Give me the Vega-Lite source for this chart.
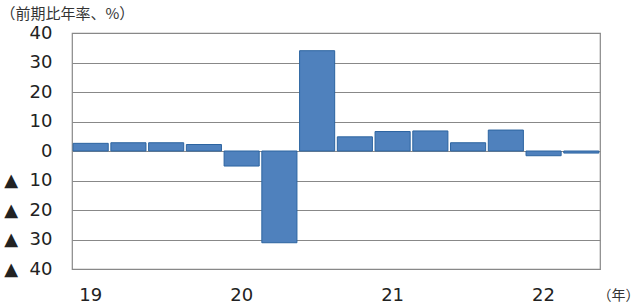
{
  "$schema": "https://vega.github.io/schema/vega-lite/v6.json",
  "width": 528,
  "height": 236,
  "autosize": {"type": "none"},
  "padding": {"left": 72, "top": 33, "right": 40, "bottom": 38},
  "background": "white",
  "config": {
    "view": {"stroke": "#888888", "strokeWidth": 1.2},
    "font": "DejaVu Sans"
  },
  "data": {
    "values": [
      {"q": "2019Q1", "v": 2.6},
      {"q": "2019Q2", "v": 2.8},
      {"q": "2019Q3", "v": 2.8},
      {"q": "2019Q4", "v": 2.2},
      {"q": "2020Q1", "v": -5.1},
      {"q": "2020Q2", "v": -31.1},
      {"q": "2020Q3", "v": 34.0},
      {"q": "2020Q4", "v": 4.8},
      {"q": "2021Q1", "v": 6.6},
      {"q": "2021Q2", "v": 6.8},
      {"q": "2021Q3", "v": 2.8},
      {"q": "2021Q4", "v": 7.1},
      {"q": "2022Q1", "v": -1.6},
      {"q": "2022Q2", "v": -0.7}
    ]
  },
  "mark": {"type": "bar", "color": "#4F81BD", "stroke": "#2C64A0", "strokeWidth": 1},
  "encoding": {
    "x": {
      "field": "q",
      "type": "ordinal",
      "sort": null,
      "scale": {"paddingInner": 0.07, "paddingOuter": 0.03},
      "axis": {
        "labelAngle": 0,
        "labelExpr": "slice(datum.value, 4) == 'Q1' ? slice(datum.value, 2, 4) : ''",
        "labelFontSize": 18,
        "labelColor": "#222222",
        "labelPadding": 17,
        "labelDx": -3,
        "ticks": false,
        "domain": false,
        "title": "（年）",
        "titleFont": "Noto Sans CJK JP",
        "titleFontSize": 14,
        "titleFontWeight": "normal",
        "titleColor": "#333333",
        "titleX": 567,
        "titleY": 26,
        "titleAlign": "right",
        "titleBaseline": "middle"
      }
    },
    "y": {
      "field": "v",
      "type": "quantitative",
      "scale": {"domain": [-40, 40], "nice": false},
      "axis": {
        "values": [-40, -30, -20, -10, 0, 10, 20, 30, 40],
        "labelExpr": "datum.value < 0 ? '▲\u00a0\u00a0' + abs(datum.value) : '' + datum.value",
        "labelFontSize": 18,
        "labelColor": "#222222",
        "labelPadding": 20,
        "ticks": false,
        "domain": false,
        "grid": true,
        "gridColor": "#888888",
        "gridWidth": 1.2,
        "title": "（前期比年率、%）",
        "titleFont": "Noto Sans CJK JP",
        "titleFontSize": 15,
        "titleFontWeight": "normal",
        "titleColor": "#333333",
        "titleAngle": 0,
        "titleX": -72,
        "titleY": -20,
        "titleAlign": "left",
        "titleBaseline": "middle"
      }
    }
  }
}
